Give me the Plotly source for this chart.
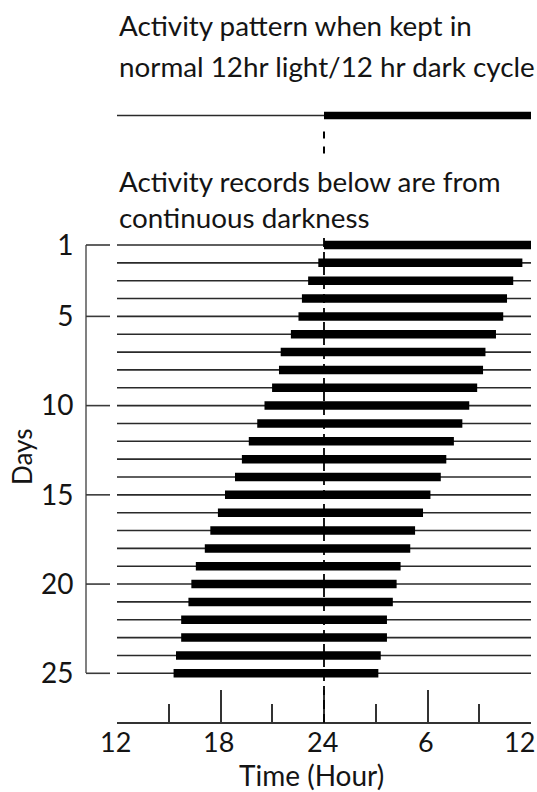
import plotly.graph_objects as go

# ---------------- data ----------------
days = list(range(1, 26))
# activity onset / offset (hours on a 12 -> 36 scale, 24 = midnight)
onset = [24.00, 23.67, 23.08, 22.72, 22.52, 22.08, 21.49, 21.39, 20.99, 20.55,
         20.13, 19.64, 19.24, 18.84, 18.26, 17.85, 17.41, 17.09, 16.57, 16.31,
         16.14, 15.72, 15.72, 15.42, 15.28]
offset = [36.00, 35.50, 34.97, 34.61, 34.39, 33.97, 33.36, 33.22, 32.88, 32.42,
          32.02, 31.53, 31.09, 30.77, 30.17, 29.74, 29.28, 29.00, 28.44, 28.21,
          27.99, 27.65, 27.65, 27.29, 27.15]
record_start = 12
record_end = 36
lights_off = 24
ld_dark = [24, 36]          # dark phase in the normal 12/12 cycle
major_ticks = [12, 18, 24, 30, 36]
major_labels = ["12", "18", "24", "6", "12"]
minor_ticks = [15, 21, 27, 33]
day_ticks = [1, 5, 10, 15, 20, 25]
title_lines = ["Activity pattern when kept in",
               "normal 12hr light/12 hr dark cycle"]
sub_lines = ["Activity records below are from", "continuous darkness"]
x_title = "Time (Hour)"
y_title = "Days"

# ---------------- layout geometry (pixels) ----------------
W, H = 537, 792
X12_PX, X36_PX = 117.0, 531.0
ROW1_PX, ROW25_PX = 245.0, 673.3
REF_BAR_PX = 115.5
AXIS_PX = 722.7
DAYAXIS_X_PX = 86.0
DAYTICK_END_PX = 110.0
FONT = "Lato"
INK = "#141414"

px_per_hr = (X36_PX - X12_PX) / (record_end - record_start)
x_range = [record_start - X12_PX / px_per_hr, record_end + (W - X36_PX) / px_per_hr]
px_per_day = (ROW25_PX - ROW1_PX) / (days[-1] - days[0])
y_range = [days[-1] + (H - ROW25_PX) / px_per_day, days[0] - ROW1_PX / px_per_day]


def py(p):  # pixel y -> paper y
    return 1 - p / H


def px(p):  # pixel x -> paper x
    return p / W


def day_of_px(p):
    return days[0] + (p - ROW1_PX) / px_per_day


ref_y = day_of_px(REF_BAR_PX)

fig = go.Figure()

# thin lines (whole recording period)
tx, ty = [], []
for d in days:
    tx += [record_start, record_end, None]
    ty += [d, d, None]
tx += [record_start, record_end]
ty += [ref_y, ref_y]
fig.add_trace(go.Scatter(x=tx, y=ty, mode="lines", line=dict(color="#2a2a2a", width=1.6),
                         hoverinfo="skip", showlegend=False))

# thick activity bars
bx, by = [], []
for d, a, b in zip(days, onset, offset):
    bx += [a, b, None]
    by += [d, d, None]
fig.add_trace(go.Scatter(x=bx, y=by, mode="lines", line=dict(color="black", width=8.5),
                         hoverinfo="skip", showlegend=False))
# reference LD dark bar
fig.add_trace(go.Scatter(x=ld_dark, y=[ref_y, ref_y], mode="lines",
                         line=dict(color="black", width=7.5), hoverinfo="skip", showlegend=False))

# invisible traces to create the decorative axes
fig.add_trace(go.Scatter(x=[record_start] * len(day_ticks), y=day_ticks, yaxis="y2",
                         mode="markers", marker=dict(opacity=0, size=1),
                         hoverinfo="skip", showlegend=False))
fig.add_trace(go.Scatter(x=major_ticks, y=[days[0]] * len(major_ticks), xaxis="x2",
                         mode="markers", marker=dict(opacity=0, size=1),
                         hoverinfo="skip", showlegend=False))

# dashed line at lights-off
shapes = [
    dict(type="line", xref="x", yref="paper", x0=lights_off, x1=lights_off,
         y0=py(131.5), y1=py(156), line=dict(color="black", width=2, dash="7px,8px")),
    dict(type="line", xref="x", yref="paper", x0=lights_off, x1=lights_off,
         y0=py(238), y1=py(AXIS_PX), line=dict(color="black", width=1.8, dash="9px,5px")),
]
# day-axis ticks (pointing right, toward the records)
for d in day_ticks:
    shapes.append(dict(type="line", xref="paper", yref="y", x0=px(DAYAXIS_X_PX),
                       x1=px(DAYTICK_END_PX), y0=d, y1=d,
                       line=dict(color="#3a3a3a", width=1.6)))

annotations = []
for txt, yc in zip(title_lines, [25, 66]):
    annotations.append(dict(text=txt, x=px(117), y=py(yc), xref="paper", yref="paper",
                            xanchor="left", yanchor="middle", showarrow=False,
                            font=dict(family=FONT, size=27.8, color=INK)))
for txt, yc in zip(sub_lines, [182, 217]):
    annotations.append(dict(text=txt, x=px(117), y=py(yc), xref="paper", yref="paper",
                            xanchor="left", yanchor="middle", showarrow=False,
                            font=dict(family=FONT, size=27.8, color=INK)))
for i, (tv, tl) in enumerate(zip(major_ticks, major_labels)):
    last = i == len(major_ticks) - 1
    annotations.append(dict(text=tl, x=tv, y=py(741), xref="x2", yref="paper",
                            xanchor="right" if last else "center", yanchor="middle",
                            xshift=5 if last else -2, showarrow=False, borderpad=0,
                            font=dict(family=FONT, size=27, color=INK)))
annotations.append(dict(text=x_title, x=px(311), y=py(775), xref="paper", yref="paper",
                        xanchor="center", yanchor="middle", showarrow=False, borderpad=0,
                        font=dict(family=FONT, size=28, color=INK)))
annotations.append(dict(text=y_title, x=px(22), y=py(457), xref="paper", yref="paper",
                        xanchor="center", yanchor="middle", textangle=-90, showarrow=False,
                        font=dict(family=FONT, size=26, color=INK)))

fig.update_layout(
    template="none",
    width=W, height=H, autosize=False,
    margin=dict(l=0, r=0, t=0, b=0, pad=0),
    paper_bgcolor="white", plot_bgcolor="rgba(0,0,0,0)",
    showlegend=False,
    xaxis=dict(range=x_range, domain=[0, 1], visible=False, fixedrange=True,
               automargin=False),
    yaxis=dict(range=y_range, domain=[0, 1], visible=False, fixedrange=True,
               automargin=False),
    xaxis2=dict(range=[record_start, record_end], domain=[px(X12_PX), px(X36_PX)],
                anchor="free", position=py(AXIS_PX), side="bottom", automargin=False,
                showline=True, linecolor="#333", linewidth=1.8,
                ticks="inside", ticklen=32, tickwidth=1.8, tickcolor="#333",
                tickvals=major_ticks, showticklabels=False, showgrid=False, zeroline=False,
                minor=dict(tickvals=minor_ticks, ticks="inside", ticklen=18,
                           tickwidth=1.6, tickcolor="#333", showgrid=False),
                fixedrange=True),
    yaxis2=dict(range=[days[-1], days[0]], domain=[py(ROW25_PX), py(ROW1_PX)],
                anchor="free", position=px(DAYAXIS_X_PX), side="left", automargin=False,
                showline=True, linecolor="#808080", linewidth=1.6,
                ticks="", tickvals=day_ticks, ticktext=[str(d) for d in day_ticks],
                tickfont=dict(family=FONT, size=28, color=INK),
                ticklabelstandoff=6,
                showgrid=False, zeroline=False, fixedrange=True),
    shapes=shapes,
    annotations=annotations,
)

fig.write_html("out.html", config={"displayModeBar": False},
               post_script="document.body.style.margin='0';")
